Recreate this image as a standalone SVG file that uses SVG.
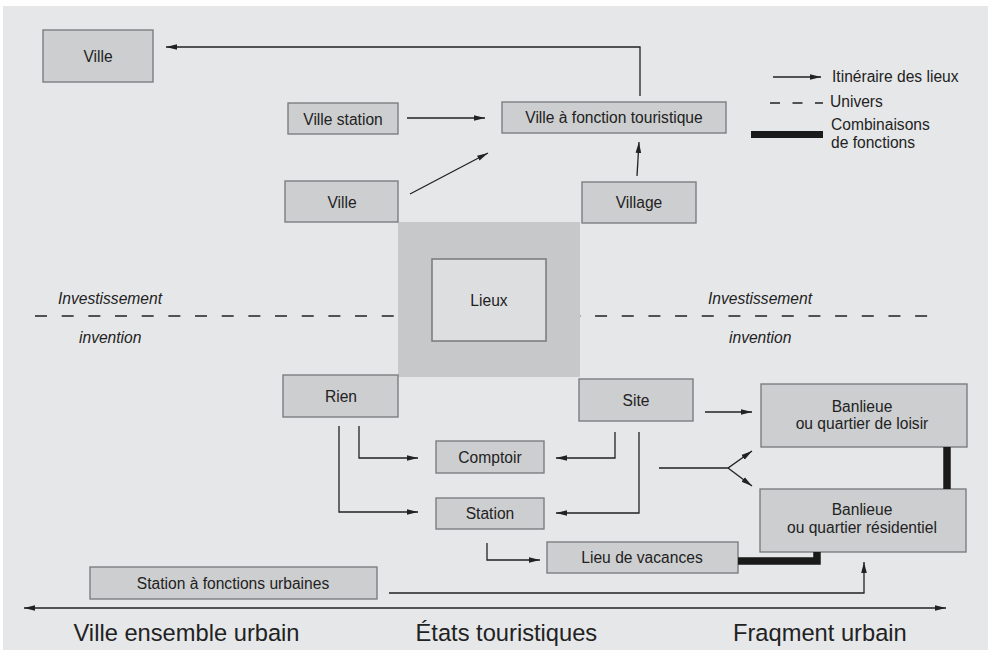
<svg xmlns="http://www.w3.org/2000/svg" width="988" height="653" viewBox="0 0 988 653">
<style>
  .bg{fill:#e6e7e9}
  .box{fill:#cdced0;stroke:#7d7e80;stroke-width:1.4}
  .t{font-family:"Liberation Sans",Arial,sans-serif;font-size:15.6px;fill:#222;text-anchor:middle}
  .lt{font-family:"Liberation Sans",Arial,sans-serif;font-size:15.6px;fill:#222}
  .it{font-family:"Liberation Sans",Arial,sans-serif;font-size:15.6px;font-style:italic;fill:#222}
  .big{font-family:"Liberation Sans",Arial,sans-serif;font-size:23.7px;fill:#222}
  .c{fill:none;stroke:#222;stroke-width:1.3}
  .thick{fill:none;stroke:#1a1a1a;stroke-width:7.5}
  .dash{fill:none;stroke:#222;stroke-width:1.4;stroke-dasharray:12 14.67}
</style>
<defs>
  <marker id="ah" markerUnits="userSpaceOnUse" markerWidth="12" markerHeight="8" refX="11" refY="4" orient="auto-start-reverse">
    <path d="M0,1.2 L11,4 L0,6.8 Z" fill="#222"/>
  </marker>
</defs>
<rect class="bg" x="3" y="6" width="985" height="644"/>

<g id="univers-line">
  <path class="dash" d="M35,316 H930"/>
  <text class="it" x="58" y="304">Investissement</text>
  <text class="it" x="79" y="343">invention</text>
  <text class="it" x="708" y="304">Investissement</text>
  <text class="it" x="729" y="343">invention</text>
</g>

<g id="lieux">
  <rect x="398" y="222" width="182" height="155" fill="#c7c8ca"/>
  <rect x="432" y="259" width="114" height="82" fill="#dddee0" stroke="#77787a" stroke-width="1.5"/>
  <text class="t" x="489" y="306">Lieux</text>
</g>

<g id="ville-top">
  <rect class="box" x="43" y="30" width="110" height="52"/>
  <text class="t" x="98" y="62">Ville</text>
</g>
<g id="ville-station">
  <rect class="box" x="288" y="103" width="110" height="31"/>
  <text class="t" x="343" y="125">Ville station</text>
</g>
<g id="ville-fonction-touristique">
  <rect class="box" x="502" y="102" width="224" height="31"/>
  <text class="t" x="614" y="123">Ville à fonction touristique</text>
</g>
<g id="ville-mid">
  <rect class="box" x="285" y="181" width="113" height="41"/>
  <text class="t" x="342" y="207.5">Ville</text>
</g>
<g id="village">
  <rect class="box" x="582" y="182" width="114" height="41"/>
  <text class="t" x="639" y="207.5">Village</text>
</g>
<g id="rien">
  <rect class="box" x="283" y="375" width="115" height="42"/>
  <text class="t" x="341" y="402">Rien</text>
</g>
<g id="site">
  <rect class="box" x="579" y="379" width="114" height="42"/>
  <text class="t" x="636" y="405.5">Site</text>
</g>
<g id="comptoir">
  <rect class="box" x="436" y="441" width="108" height="32"/>
  <text class="t" x="490" y="462.5">Comptoir</text>
</g>
<g id="station">
  <rect class="box" x="436" y="498" width="108" height="31"/>
  <text class="t" x="490" y="519">Station</text>
</g>
<g id="lieu-vacances">
  <rect class="box" x="547" y="542" width="191" height="31"/>
  <text class="t" x="642" y="563">Lieu de vacances</text>
</g>
<g id="station-fonctions-urbaines">
  <rect class="box" x="90" y="567" width="287" height="32"/>
  <text class="t" x="233" y="588.5">Station à fonctions urbaines</text>
</g>
<g id="banlieue-loisir">
  <rect class="box" x="761" y="384" width="206" height="63"/>
  <text class="t" x="862" y="411.5">Banlieue</text>
  <text class="t" x="862" y="429">ou quartier de loisir</text>
</g>
<g id="banlieue-residentiel">
  <rect class="box" x="760" y="489" width="206" height="63"/>
  <text class="t" x="862" y="514.5">Banlieue</text>
  <text class="t" x="862" y="533">ou quartier résidentiel</text>
</g>

<g id="connectors">
  <path class="c" d="M640,96 V47 H166" marker-end="url(#ah)"/>
  <path class="c" d="M407,118 H485" marker-end="url(#ah)"/>
  <path class="c" d="M410,194 L488,153" marker-end="url(#ah)"/>
  <path class="c" d="M637,176 L639,142" marker-end="url(#ah)"/>
  <path class="c" d="M359,426 V458 H418" marker-end="url(#ah)"/>
  <path class="c" d="M339,426 V512 H418" marker-end="url(#ah)"/>
  <path class="c" d="M615,432 V458 H556" marker-end="url(#ah)"/>
  <path class="c" d="M639,432 V513 H556" marker-end="url(#ah)"/>
  <path class="c" d="M487,543 V560 H540" marker-end="url(#ah)"/>
  <path class="c" d="M389,593 H864 V562" marker-end="url(#ah)"/>
  <path class="c" d="M705,412 H752" marker-end="url(#ah)"/>
  <path class="c" d="M659,468 H728 L752,451" marker-end="url(#ah)"/>
  <path class="c" d="M728,468 L752,486" marker-end="url(#ah)"/>
  <path class="thick" d="M947,447 V489"/>
  <path class="thick" d="M738,561 H817 V552"/>
  <path class="c" d="M24,608 H946" marker-start="url(#ah)" marker-end="url(#ah)"/>
</g>

<g id="legend">
  <path class="c" d="M773,77 H821" marker-end="url(#ah)"/>
  <text class="lt" x="832" y="82">Itinéraire des lieux</text>
  <path d="M770,103 H823" fill="none" stroke="#222" stroke-width="1.3" stroke-dasharray="10 12.5"/>
  <text class="lt" x="830" y="107">Univers</text>
  <rect x="751" y="131" width="72" height="7" fill="#1a1a1a"/>
  <text class="lt" x="831" y="130">Combinaisons</text>
  <text class="lt" x="831" y="147.5">de fonctions</text>
</g>

<g id="axis-labels">
  <text class="big" x="73.5" y="641">Ville ensemble urbain</text>
  <text class="big" x="415.5" y="641">États touristiques</text>
  <text class="big" x="733" y="641">Fraqment urbain</text>
</g>
</svg>
